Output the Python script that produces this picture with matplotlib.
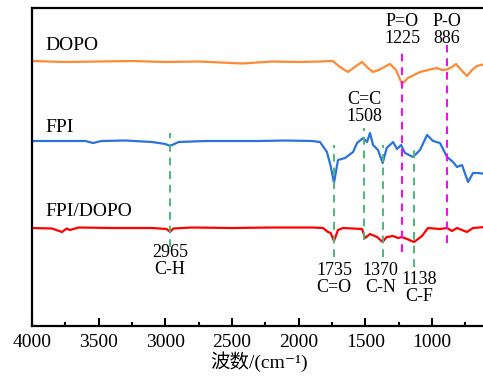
import matplotlib
matplotlib.use("Agg")
import matplotlib.pyplot as plt
from matplotlib.ticker import MultipleLocator

plt.rcParams['font.family'] = ['Liberation Serif', 'Noto Sans CJK SC', 'DejaVu Serif']

# spectra (wavenumber, offset transmittance)
dopo_wn = [4000, 3750, 3500, 3250, 3000, 2750, 2420, 2200, 2000, 1840, 1745, 1690, 1630,
           1580, 1525, 1480, 1442, 1400, 1315, 1270, 1225, 1180, 1090, 1030, 963, 925,
           887, 850, 820, 780, 738, 700, 662, 600]
dopo_t = [265, 264, 264.5, 265, 264, 264.5, 262.5, 264.5, 264, 264.5, 265, 259, 254,
          259, 264, 258, 254, 256, 262, 256, 242, 248, 254, 256, 258, 256,
          256.5, 259, 262, 256, 250, 256, 260, 262]

fpi_wn = [4000, 3800, 3600, 3542, 3480, 3300, 3100, 3000, 2965, 2900, 2700, 2500, 2300,
          2100, 1900, 1840, 1788, 1760, 1735, 1705, 1652, 1592, 1562, 1517, 1487, 1465,
          1442, 1405, 1370, 1340, 1292, 1262, 1232, 1202, 1142, 1090, 1037, 992, 940,
          887, 842, 812, 775, 730, 692, 655, 600]
fpi_t = [185, 185, 185, 183, 185, 185.5, 184, 182, 180, 184, 185, 185, 185,
         185.5, 185, 184, 174, 160, 143, 166, 168, 174, 183, 188, 184, 193,
         181, 176, 163, 178, 184, 177, 181, 173, 169, 176, 191, 185, 183,
         169, 164, 159, 161, 144, 153, 153, 152]

mix_wn = [4000, 3850, 3775, 3740, 3715, 3650, 3400, 3100, 2990, 2965, 2940, 2800, 2500,
          2200, 1900, 1817, 1780, 1760, 1735, 1705, 1667, 1525, 1502, 1465, 1412, 1370,
          1340, 1292, 1255, 1225, 1187, 1135, 1075, 1030, 940, 887, 850, 812, 738, 692, 600]
mix_t = [98, 97.5, 94, 97.5, 96, 98.5, 98, 98, 97, 94, 97.5, 98.5, 98,
         98.5, 98.5, 98, 94, 93, 85, 96, 98, 97, 88, 92, 89, 84,
         89, 90, 88, 89, 87, 84, 90, 98, 97, 98, 95, 98, 94, 98, 99]

# band assignments
green_bands = [2965, 1735, 1508, 1370, 1138]
green_span = [(79, 193), (69, 181), (86, 198), (69, 181), (59, 181)]
magenta_bands = [1225, 886]
magenta_span = [(74, 276), (83, 281)]

fig = plt.figure(figsize=(4.83, 3.81), dpi=100)
ax = fig.add_axes([32 / 483, 55 / 381, (4000 - 600) / 7.5 / 483, 318 / 381])

ax.plot(dopo_wn, dopo_t, color='#FF8A33', lw=1.6)
ax.plot(fpi_wn, fpi_t, color='#2B73DB', lw=1.6)
ax.plot(mix_wn, mix_t, color='#FF0000', lw=1.6)

for wn, (y0, y1) in zip(green_bands, green_span):
    ax.plot([wn, wn], [y0, y1], color='#4DB87A', lw=1.4, ls=(0, (4, 3)))
for wn, (y0, y1) in zip(magenta_bands, magenta_span):
    ax.plot([wn, wn], [y0, y1], color='#FF00FF', lw=1.4, ls=(0, (4, 3)))

fs = 14
afs = 13
ax.text(3900, 280, 'DOPO', fontsize=fs, va='center')
ax.text(3900, 199, 'FPI', fontsize=fs, va='center')
ax.text(3900, 114, 'FPI/DOPO', fontsize=fs, va='center')

kw = dict(fontsize=afs, ha='center', va='center', linespacing=1.0)
ax.text(1225, 296, 'P=O\n1225', **kw)
ax.text(886, 296, 'P-O\n886', **kw)
ax.text(1508, 218, 'C=C\n1508', **kw)
ax.text(2965, 65, '2965\nC-H', **kw)
ax.text(1735, 47, '1735\nC=O', **kw)
ax.text(1385, 47, '1370\nC-N', **kw)
ax.text(1095, 38, '1138\nC-F', **kw)

ax.set_xlim(4000, 600)
ax.set_ylim(0, 318)
ax.set_yticks([])
ax.xaxis.set_major_locator(MultipleLocator(500))
ax.xaxis.set_minor_locator(MultipleLocator(250))
ax.tick_params(axis='x', which='major', direction='in', length=6, width=1.5, labelsize=fs, pad=6)
ax.tick_params(axis='x', which='minor', direction='in', length=3, width=1.5)
for s in ax.spines.values():
    s.set_linewidth(1.6)

ax.set_xlabel('波数/(cm⁻¹)', fontsize=fs, labelpad=0)

fig.savefig('out.png', dpi=100)
